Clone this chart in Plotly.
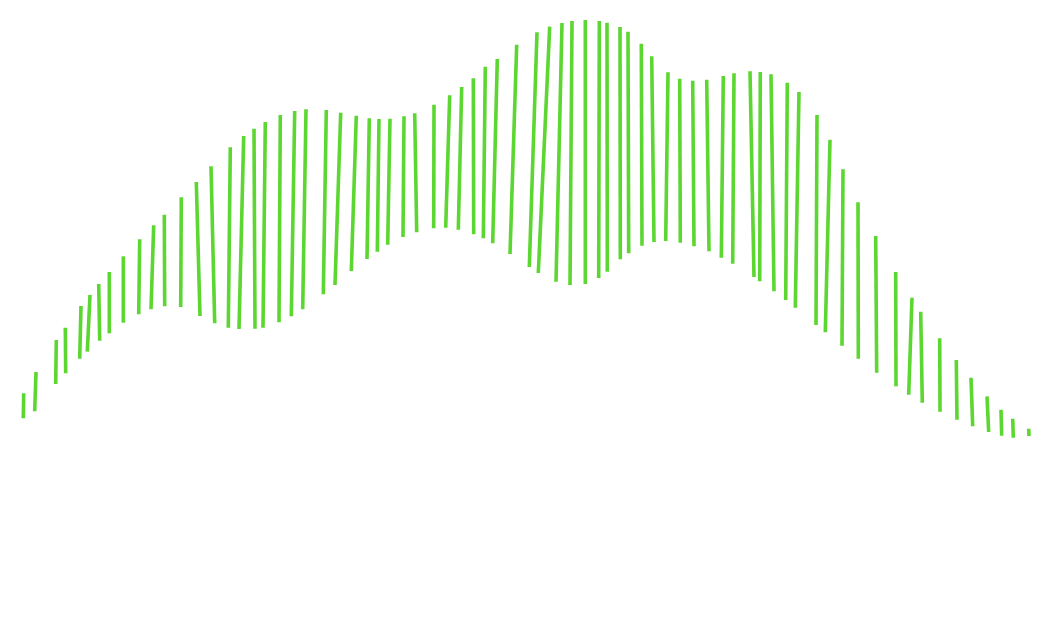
import plotly.graph_objects as go

# each stroke runs from an upper point to a lower point
x_top = [23.7, 36.0, 56.3, 65.3, 81.0, 90.0, 98.7, 109.3, 123.3, 139.7,
         153.7, 164.3, 181.3, 196.3, 211.0, 230.3, 243.7, 254.0, 265.3, 280.3,
         294.7, 306.0, 326.3, 340.7, 356.3, 369.3, 379.0, 390.0, 404.0, 414.7,
         434.0, 449.7, 461.7, 473.3, 485.3, 497.3, 516.7, 537.0, 549.7, 562.0,
         572.0, 585.3, 599.3, 607.0, 620.0, 628.0, 641.3, 651.7, 668.0, 679.7,
         692.7, 706.7, 723.3, 734.0, 750.0, 760.3, 771.0, 787.3, 799.0, 817.0,
         830.0, 843.0, 858.0, 875.7, 895.7, 912.0, 920.7, 939.7, 956.3, 971.0,
         987.0, 1001.0, 1012.7, 1028.7]
y_top = [239.7, 261.0, 293.0, 305.3, 327.0, 338.0, 349.0, 361.0, 376.7, 393.7,
         407.7, 418.3, 435.7, 451.0, 466.7, 485.7, 497.0, 504.3, 511.0, 518.0,
         522.0, 523.7, 523.0, 520.3, 517.3, 514.7, 514.0, 514.3, 516.7, 519.7,
         528.3, 537.7, 546.0, 554.7, 566.3, 574.0, 588.3, 600.7, 606.3, 610.0,
         612.0, 613.0, 612.0, 610.3, 606.0, 601.3, 589.3, 576.7, 560.7, 554.3,
         552.3, 553.3, 557.0, 559.7, 561.7, 561.0, 558.7, 550.3, 541.0, 518.0,
         493.3, 463.7, 430.7, 397.0, 361.0, 335.3, 321.3, 294.7, 273.0, 255.3,
         236.7, 223.3, 214.3, 204.3]
x_bottom = [23.3, 34.7, 55.7, 65.7, 79.7, 87.3, 99.7, 109.3, 123.3, 138.7,
            151.0, 164.7, 180.7, 200.0, 214.7, 228.3, 239.0, 255.0, 263.0, 279.0,
            291.3, 302.7, 323.3, 335.0, 351.3, 367.0, 377.3, 387.7, 403.0, 416.7,
            433.7, 445.7, 458.3, 473.7, 483.3, 492.7, 510.0, 529.3, 538.3, 556.0,
            570.0, 585.3, 598.7, 607.3, 620.3, 628.7, 642.0, 654.0, 665.7, 680.3,
            694.0, 709.0, 721.3, 732.7, 754.0, 759.7, 774.0, 785.7, 795.3, 816.0,
            825.3, 842.0, 858.3, 876.7, 896.0, 908.7, 922.3, 940.0, 957.0, 972.7,
            988.7, 1001.7, 1013.3, 1029.0]
y_bottom = [214.7, 221.7, 249.0, 259.7, 274.3, 281.3, 292.3, 299.7, 310.3, 318.7,
            323.7, 326.7, 326.0, 317.0, 309.7, 305.3, 304.0, 304.3, 305.3, 310.7,
            316.7, 323.7, 338.7, 348.0, 362.0, 374.0, 381.3, 388.3, 396.0, 400.7,
            404.7, 405.3, 403.3, 398.7, 394.7, 389.7, 379.0, 366.0, 360.0, 351.3,
            348.0, 349.0, 355.0, 361.3, 373.7, 379.7, 387.3, 391.0, 392.0, 390.3,
            386.7, 381.7, 375.3, 369.3, 356.0, 351.7, 341.7, 333.0, 325.3, 308.0,
            300.7, 287.3, 274.3, 260.3, 246.7, 238.3, 230.3, 221.3, 213.3, 206.7,
            201.0, 197.3, 195.3, 197.0]

xs, ys = [], []
for xt, yt, xb, yb in zip(x_top, y_top, x_bottom, y_bottom):
    xs += [xt, xb, None]
    ys += [yt, yb, None]

fig = go.Figure(go.Scatter(
    x=xs, y=ys, mode='lines', connectgaps=False,
    line=dict(color='#5cd630', width=3.6),
    hoverinfo='skip', showlegend=False,
))

# the page body adds an 8px margin, so the ranges are shifted to compensate
fig.update_layout(
    width=1053, height=633,
    margin=dict(l=0, r=0, t=0, b=0),
    plot_bgcolor='white', paper_bgcolor='white',
    xaxis=dict(range=[8, 1061], visible=False),
    yaxis=dict(range=[-8, 625], visible=False),
)

fig.write_html("out.html")
